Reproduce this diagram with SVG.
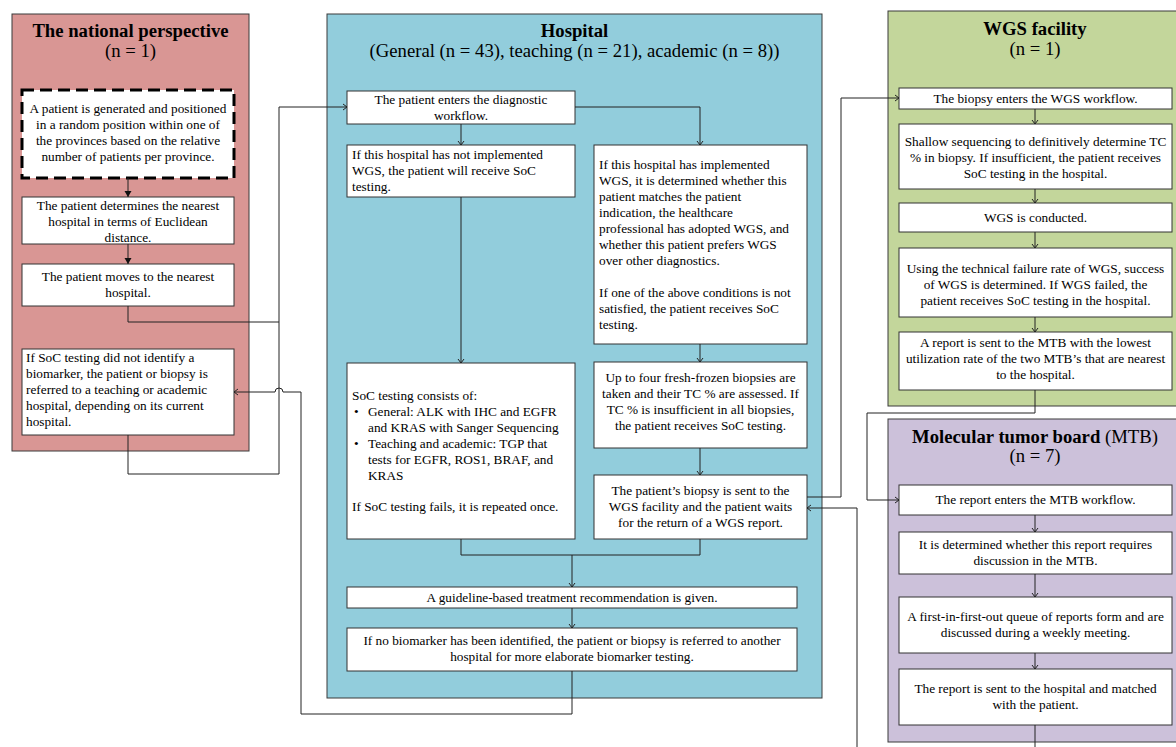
<svg xmlns="http://www.w3.org/2000/svg" width="1176" height="747" viewBox="0 0 1176 747">
<style>
text{font-family:"Liberation Serif","Times New Roman",serif;font-size:13.3px;fill:#000}
.t{font-size:18.7px;text-anchor:middle}
.b{font-weight:bold}
.c{text-anchor:middle}
.panel{stroke:#3a3a3a;stroke-width:1}
.box{fill:#fff;stroke:#333;stroke-width:1}
.conn path{fill:none;stroke:#222;stroke-width:1}
</style>
<defs>
<marker id="open" markerUnits="userSpaceOnUse" markerWidth="8" markerHeight="8" refX="5" refY="4" orient="auto">
<path d="M1,1 L5,4 L1,7" fill="none" stroke="#222" stroke-width="1"/>
</marker>
<marker id="fill" markerUnits="userSpaceOnUse" markerWidth="8" markerHeight="8" refX="6" refY="4" orient="auto">
<path d="M0,0.5 L6,4 L0,7.5 Z" fill="#111"/>
</marker>
</defs>

<g id="panel-national">
<rect class="panel" x="12" y="14" width="237" height="437" fill="#d99694"/>
<text class="t b" x="130.5" y="37">The national perspective</text>
<text class="t" x="130.5" y="57">(n = 1)</text>
</g>
<g id="panel-hospital">
<rect class="panel" x="327" y="14" width="495" height="684" fill="#92cddc"/>
<text class="t b" x="574.5" y="37">Hospital</text>
<text class="t" x="574.5" y="57">(General (n = 43), teaching (n = 21), academic (n = 8))</text>
</g>
<g id="panel-wgs">
<rect class="panel" x="888" y="11" width="300" height="395" fill="#c3d69b"/>
<text class="t b" x="1035" y="35">WGS facility</text>
<text class="t" x="1035" y="55">(n = 1)</text>
</g>
<g id="panel-mtb">
<rect class="panel" x="888" y="419" width="300" height="323" fill="#ccc1da"/>
<text class="t" x="1035" y="443"><tspan class="b" font-weight="bold">Molecular tumor board</tspan> (MTB)</text>
<text class="t" x="1035" y="462">(n = 7)</text>
</g>

<g id="n1">
<rect x="22" y="90" width="212" height="88" fill="#fff" stroke="#000" stroke-width="3" stroke-dasharray="12,6"/>
<text class="c" x="128" y="113">A patient is generated and positioned</text>
<text class="c" x="128" y="129">in a random position within one of</text>
<text class="c" x="128" y="145">the provinces based on the relative</text>
<text class="c" x="128" y="161">number of patients per province.</text>
</g>
<g id="n2">
<rect class="box" x="22" y="197" width="212" height="47"/>
<text class="c" x="128" y="210">The patient determines the nearest</text>
<text class="c" x="128" y="226">hospital in terms of Euclidean</text>
<text class="c" x="128" y="242">distance.</text>
</g>
<g id="n3">
<rect class="box" x="22" y="264" width="212" height="42"/>
<text class="c" x="128" y="281">The patient moves to the nearest</text>
<text class="c" x="128" y="297">hospital.</text>
</g>
<g id="n4">
<rect class="box" x="22" y="349" width="212" height="86"/>
<text x="26" y="362">If SoC testing did not identify a</text>
<text x="26" y="378">biomarker, the patient or biopsy is</text>
<text x="26" y="394">referred to a teaching or academic</text>
<text x="26" y="410">hospital, depending on its current</text>
<text x="26" y="426">hospital.</text>
</g>

<g id="hA">
<rect class="box" x="347" y="91" width="228" height="33"/>
<text class="c" x="461" y="104">The patient enters the diagnostic</text>
<text class="c" x="461" y="120">workflow.</text>
</g>
<g id="hB">
<rect class="box" x="347" y="145" width="228" height="52"/>
<text x="352" y="159">If this hospital has not implemented</text>
<text x="352" y="175">WGS, the patient will receive SoC</text>
<text x="352" y="191">testing.</text>
</g>
<g id="hC">
<rect class="box" x="594" y="145" width="213" height="199"/>
<text x="599" y="169">If this hospital has implemented</text>
<text x="599" y="185">WGS, it is determined whether this</text>
<text x="599" y="201">patient matches the patient</text>
<text x="599" y="217">indication, the healthcare</text>
<text x="599" y="233">professional has adopted WGS, and</text>
<text x="599" y="249">whether this patient prefers WGS</text>
<text x="599" y="265">over other diagnostics.</text>
<text x="599" y="297">If one of the above conditions is not</text>
<text x="599" y="313">satisfied, the patient receives SoC</text>
<text x="599" y="329">testing.</text>
</g>
<g id="hD">
<rect class="box" x="347" y="363" width="228" height="176"/>
<text x="352" y="400">SoC testing consists of:</text>
<text x="354" y="416">•</text>
<text x="368" y="416">General: ALK with IHC and EGFR</text>
<text x="368" y="432">and KRAS with Sanger Sequencing</text>
<text x="354" y="448">•</text>
<text x="368" y="448">Teaching and academic: TGP that</text>
<text x="368" y="464">tests for EGFR, ROS1, BRAF, and</text>
<text x="368" y="480">KRAS</text>
<text x="352" y="511">If SoC testing fails, it is repeated once.</text>
</g>
<g id="hE">
<rect class="box" x="594" y="362" width="213" height="86"/>
<text class="c" x="700.5" y="382">Up to four fresh-frozen biopsies are</text>
<text class="c" x="700.5" y="398">taken and their TC % are assessed. If</text>
<text class="c" x="700.5" y="414">TC % is insufficient in all biopsies,</text>
<text class="c" x="700.5" y="430">the patient receives SoC testing.</text>
</g>
<g id="hF">
<rect class="box" x="594" y="475" width="213" height="64"/>
<text class="c" x="700.5" y="495">The patient’s biopsy is sent to the</text>
<text class="c" x="700.5" y="511">WGS facility and the patient waits</text>
<text class="c" x="700.5" y="527">for the return of a WGS report.</text>
</g>
<g id="hG">
<rect class="box" x="347" y="587" width="450" height="21"/>
<text class="c" x="572" y="602">A guideline-based treatment recommendation is given.</text>
</g>
<g id="hH">
<rect class="box" x="347" y="628" width="450" height="43"/>
<text class="c" x="572" y="645">If no biomarker has been identified, the patient or biopsy is referred to another</text>
<text class="c" x="572" y="661">hospital for more elaborate biomarker testing.</text>
</g>

<g id="w1">
<rect class="box" x="899" y="88" width="273" height="21"/>
<text class="c" x="1035.5" y="103">The biopsy enters the WGS workflow.</text>
</g>
<g id="w2">
<rect class="box" x="899" y="124" width="273" height="65"/>
<text class="c" x="1035.5" y="146">Shallow sequencing to definitively determine TC</text>
<text class="c" x="1035.5" y="162">% in biopsy. If insufficient, the patient receives</text>
<text class="c" x="1035.5" y="178">SoC testing in the hospital.</text>
</g>
<g id="w3">
<rect class="box" x="899" y="203" width="273" height="29"/>
<text class="c" x="1035.5" y="222">WGS is conducted.</text>
</g>
<g id="w4">
<rect class="box" x="899" y="248" width="273" height="69"/>
<text class="c" x="1035.5" y="273">Using the technical failure rate of WGS, success</text>
<text class="c" x="1035.5" y="289">of WGS is determined. If WGS failed, the</text>
<text class="c" x="1035.5" y="305">patient receives SoC testing in the hospital.</text>
</g>
<g id="w5">
<rect class="box" x="899" y="332" width="273" height="58"/>
<text class="c" x="1035.5" y="347">A report is sent to the MTB with the lowest</text>
<text class="c" x="1035.5" y="363">utilization rate of the two MTB’s that are nearest</text>
<text class="c" x="1035.5" y="379">to the hospital.</text>
</g>

<g id="m1">
<rect class="box" x="899" y="485" width="273" height="30"/>
<text class="c" x="1035.5" y="504">The report enters the MTB workflow.</text>
</g>
<g id="m2">
<rect class="box" x="899" y="532" width="273" height="42"/>
<text class="c" x="1035.5" y="549">It is determined whether this report requires</text>
<text class="c" x="1035.5" y="565">discussion in the MTB.</text>
</g>
<g id="m3">
<rect class="box" x="899" y="597" width="273" height="56"/>
<text class="c" x="1035.5" y="621">A first-in-first-out queue of reports form and are</text>
<text class="c" x="1035.5" y="637">discussed during a weekly meeting.</text>
</g>
<g id="m4">
<rect class="box" x="899" y="669" width="273" height="56"/>
<text class="c" x="1035.5" y="693">The report is sent to the hospital and matched</text>
<text class="c" x="1035.5" y="709">with the patient.</text>
</g>

<g id="connectors" class="conn">
<path d="M128,178 V197" marker-end="url(#fill)"/>
<path d="M128,244 V264" marker-end="url(#fill)"/>
<path d="M128,306 V322 H279"/>
<path d="M128,435 V474 H279 V107 H347" marker-end="url(#open)"/>
<path d="M572,671 V714 H301 V392 H283 A4,4 0 0 0 275,392 H234" marker-end="url(#open)"/>
<path d="M461,124 V145" marker-end="url(#open)"/>
<path d="M575,107 H700 V145" marker-end="url(#open)"/>
<path d="M461,197 V363" marker-end="url(#open)"/>
<path d="M700,344 V362" marker-end="url(#open)"/>
<path d="M700,448 V475" marker-end="url(#open)"/>
<path d="M461,539 V555 H700 V539"/>
<path d="M572,555 V587" marker-end="url(#open)"/>
<path d="M572,608 V628" marker-end="url(#open)"/>
<path d="M807,497 H841 V98 H899" marker-end="url(#open)"/>
<path d="M1035,109 V124" marker-end="url(#open)"/>
<path d="M1035,189 V203" marker-end="url(#open)"/>
<path d="M1035,232 V248" marker-end="url(#open)"/>
<path d="M1035,317 V332" marker-end="url(#open)"/>
<path d="M1035,390 V413 H867 V500 H899" marker-end="url(#open)"/>
<path d="M1035,515 V532" marker-end="url(#open)"/>
<path d="M1035,574 V597" marker-end="url(#open)"/>
<path d="M1035,653 V669" marker-end="url(#open)"/>
<path d="M1035,725 V747"/>
<path d="M857,747 V508 H807" marker-end="url(#open)"/>
</g>
</svg>
